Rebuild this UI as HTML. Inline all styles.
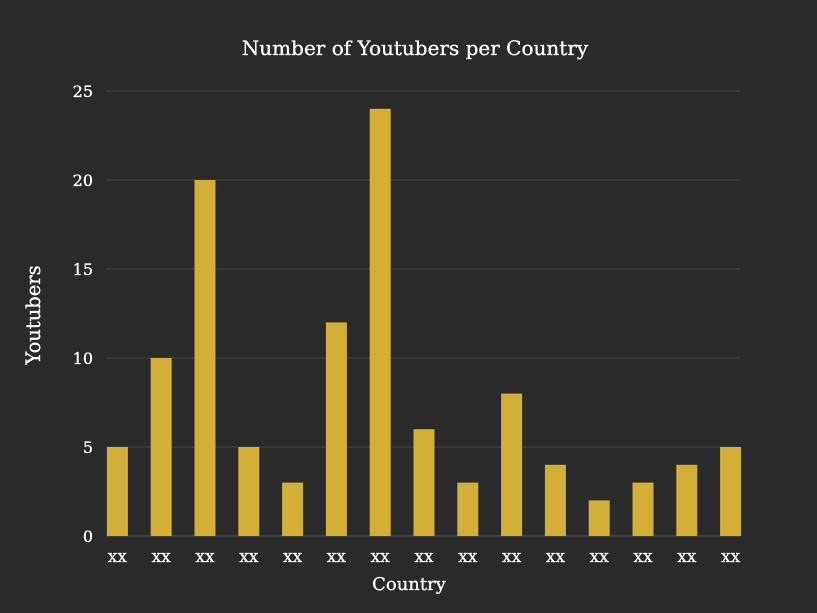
<!DOCTYPE html>
<html><head><meta charset="utf-8"><style>
html,body{margin:0;padding:0;background:#2a2a2a;overflow:hidden;width:817px;height:613px;}
svg{display:block;}
svg text{font-family:"DejaVu Serif","Liberation Serif",serif;fill:#fff;}
</style></head><body>
<svg id="chart" width="817" height="613" xmlns="http://www.w3.org/2000/svg">
<rect width="817" height="613" fill="#2a2a2a"/>
<text x="415" y="55" text-anchor="middle" font-size="20" stroke="#fff" stroke-width="0.3">Number of Youtubers per Country</text>
<text x="409" y="590" text-anchor="middle" font-size="18" stroke="#fff" stroke-width="0.3">Country</text>
<text transform="translate(40,315) rotate(-90)" text-anchor="middle" font-size="19.5" stroke="#fff" stroke-width="0.3">Youtubers</text>
<g id="grid"></g><g id="bars"></g><g id="xlabels"></g><g id="ylabels"></g>
</svg>
<script>
const categories = ["xx","xx","xx","xx","xx","xx","xx","xx","xx","xx","xx","xx","xx","xx","xx"];
const values = [5,10,20,5,3,12,24,6,3,8,4,2,3,4,5];
const yTicks = [0,5,10,15,20,25];

const NS="http://www.w3.org/2000/svg";
const x0=95.5, band=43.8, barW=21, gridL=106, gridR=740;
function xCenter(i){return x0+band*(i+0.5);}
function y(v){return 536-v*17.8;}
function mk(tag,attrs,parent){const e=document.createElementNS(NS,tag);for(const k in attrs)e.setAttribute(k,attrs[k]);document.getElementById(parent).appendChild(e);return e;}
yTicks.forEach(t=>{
  const l=mk('line',{x1:gridL,x2:gridR,y1:y(t),y2:y(t),stroke:t===0?'#555':'#444','stroke-width':1},'grid');
  
  
  const tx=mk('text',{x:93,y:y(t)+6,'text-anchor':'end','font-size':16,stroke:'#fff','stroke-width':0.3},'ylabels');
  tx.textContent=t;
  
  
});
values.forEach((v,i)=>{
  const r=mk('rect',{x:xCenter(i)-barW/2,y:y(v),width:barW,height:y(0)-y(v),fill:'#d4af37'},'bars');
  
  
  const tx=mk('text',{x:xCenter(i),y:562,'text-anchor':'middle','font-size':17,stroke:'#fff','stroke-width':0.3},'xlabels');
  tx.textContent=categories[i];
  
  
});
</script>
</body></html>
